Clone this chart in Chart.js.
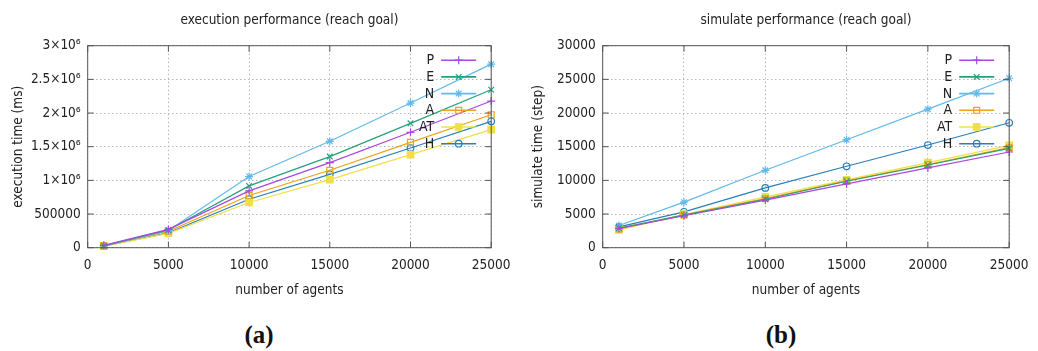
<!DOCTYPE html>
<html>
<head>
<meta charset="utf-8">
<script src="https://cdn.jsdelivr.net/npm/chart.js@4/dist/chart.umd.min.js"></script>
<style>
  html, body { margin: 0; padding: 0; background: #fff; }
  #wrap { position: relative; width: 1038px; height: 351px; background: #fff; overflow: hidden; }
  .panel { position: absolute; top: 0; }
  .cap { position: absolute; top: 321px; width: 80px; text-align: center;
         font-family: "Liberation Serif", "DejaVu Serif", serif; font-weight: bold; font-size: 25px; color: #111; }
</style>
</head>
<body>
<div id="wrap">
  <div class="panel" style="left:0px"><canvas id="execChart" width="520" height="310"></canvas></div>
  <div class="panel" style="left:520px"><canvas id="simChart" width="518" height="310"></canvas></div>
  <div class="cap" style="left:219px">(a)</div>
  <div class="cap" style="left:741px">(b)</div>
</div>
<script>
// number of agents in each run
const agents = [1000, 5000, 10000, 15000, 20000, 25000];
const seriesNames = ['P', 'E', 'N', 'A', 'AT', 'H'];

// execution time (ms)
const execP  = [35000, 272000, 844000, 1264000, 1714000, 2178000];
const execE  = [30000, 262000, 918000, 1353000, 1847000, 2346000];
const execN  = [28000, 257000, 1057000, 1580000, 2148000, 2726000];
const execA  = [27000, 245000, 775000, 1150000, 1565000, 1975000];
const execAT = [22000, 212000, 672000, 1012000, 1383000, 1753000];
const execH  = [24000, 222000, 720000, 1090000, 1480000, 1877000];

// simulate time (step)
const simP  = [2850, 4740, 7056, 9474, 11843, 14210];
const simE  = [2900, 4835, 7200, 9870, 12287, 14753];
const simN  = [3300, 6760, 11497, 16036, 20577, 25164];
const simA  = [2800, 4880, 7300, 9918, 12336, 14852];
const simAT = [2650, 4935, 7550, 10066, 12632, 15197];
const simH  = [3100, 5330, 8882, 12090, 15247, 18553];

// axis ticks
const xTicks = [0, 5000, 10000, 15000, 20000, 25000];
const execTicks = [0, 500000, 1000000, 1500000, 2000000, 2500000, 3000000];
const execTickLabels = ['0', '500000', '1×10⁶', '1.5×10⁶', '2×10⁶', '2.5×10⁶', '3×10⁶'];
const simTicks = [0, 5000, 10000, 15000, 20000, 25000, 30000];

const FONT = '"DejaVu Sans Condensed", "DejaVu Sans", sans-serif';
const TEXT = '#222';

const styles = {
  P:  { color: '#a848dc', point: 'cross',    radius: 4,   fill: '#a848dc' },
  E:  { color: '#26a07a', point: 'crossRot', radius: 4,   fill: '#26a07a' },
  N:  { color: '#62b9ea', point: 'star',     radius: 4,   fill: '#62b9ea' },
  A:  { color: '#e9a418', point: 'rect',     radius: 4.2, fill: 'rgba(0,0,0,0)' },
  AT: { color: '#f0e048', point: 'rect',     radius: 4.6, fill: '#f0e048' },
  H:  { color: '#2a7fb8', point: 'circle',   radius: 3.3, fill: 'rgba(0,0,0,0)' }
};

function makeDatasets(seriesValues) {
  return seriesNames.map((name, i) => {
    const s = styles[name];
    return {
      label: name,
      data: agents.map((a, j) => ({ x: a, y: seriesValues[i][j] })),
      borderColor: s.color,
      backgroundColor: s.fill,
      borderWidth: 1.2,
      pointStyle: s.point,
      pointRadius: s.radius,
      pointBorderColor: s.color,
      pointBackgroundColor: s.fill,
      pointBorderWidth: 1.2,
      tension: 0,
      clip: false
    };
  });
}

// gnuplot-like frame with inward tick marks on all four sides, plus title and key
const framePlugin = {
  id: 'frame',
  afterDatasetsDraw(chart, args, opts) {
    const { ctx, chartArea: a, scales } = chart;
    ctx.save();
    ctx.strokeStyle = '#555';
    ctx.lineWidth = 1;
    ctx.strokeRect(a.left, a.top, a.right - a.left, a.bottom - a.top);
    const tl = 6;
    ctx.beginPath();
    scales.x.ticks.forEach(t => {
      const px = scales.x.getPixelForValue(t.value);
      ctx.moveTo(px, a.bottom); ctx.lineTo(px, a.bottom - tl);
      ctx.moveTo(px, a.top); ctx.lineTo(px, a.top + tl);
    });
    scales.y.ticks.forEach(t => {
      const py = scales.y.getPixelForValue(t.value);
      ctx.moveTo(a.left, py); ctx.lineTo(a.left + tl, py);
      ctx.moveTo(a.right, py); ctx.lineTo(a.right - tl, py);
    });
    ctx.stroke();

    // title
    ctx.fillStyle = TEXT;
    ctx.font = '13.5px ' + FONT;
    ctx.textAlign = 'center';
    ctx.textBaseline = 'middle';
    ctx.fillText(opts.title, (a.left + a.right) / 2, 20);

    // key
    ctx.textAlign = 'right';
    ctx.font = '14px ' + FONT;
    chart.data.datasets.forEach((ds, i) => {
      const y = a.top + 14.5 + i * 16.7;
      const x1 = a.right - 50, x2 = a.right - 15;
      ctx.fillStyle = TEXT;
      ctx.fillText(ds.label, a.right - 57, y + 0.5);
      ctx.strokeStyle = ds.borderColor;
      ctx.lineWidth = 1.6;
      ctx.setLineDash([]);
      ctx.beginPath(); ctx.moveTo(x1, y); ctx.lineTo(x2, y); ctx.stroke();
      ctx.fillStyle = ds.pointBackgroundColor;
      ctx.lineWidth = 1.2;
      Chart.helpers.drawPoint(ctx, { pointStyle: ds.pointStyle, rotation: 0, radius: ds.pointRadius, borderWidth: 1.2 }, (x1 + x2) / 2, y);
    });
    ctx.restore();
  }
};

function makeChart(id, datasets, yMax, yTicks, yLabelFn, yTitle, title, axisWidth, padRight) {
  return new Chart(document.getElementById(id), {
    type: 'line',
    data: { datasets },
    plugins: [framePlugin],
    options: {
      responsive: false,
      animation: false,
      events: [],
      layout: { padding: { top: 45.7, right: padRight, bottom: 10.3, left: 0 } },
      plugins: {
        legend: { display: false },
        tooltip: { enabled: false },
        frame: { title }
      },
      scales: {
        x: {
          type: 'linear', min: 0, max: 25000,
          afterBuildTicks: s => { s.ticks = xTicks.map(v => ({ value: v })); },
          afterFit: s => { s.height = 52; },
          ticks: { color: TEXT, font: { family: FONT, size: 13.5 }, padding: 9.5, maxRotation: 0, callback: v => String(v) },
          grid: { color: '#b8b8b8', lineWidth: 1, drawTicks: false },
          border: { display: false, dash: [1.5, 2.5] },
          title: { display: true, text: 'number of agents', color: TEXT, font: { family: FONT, size: 13.5 }, padding: { top: 0, bottom: 1.5 } }
        },
        y: {
          type: 'linear', min: 0, max: yMax,
          afterBuildTicks: s => { s.ticks = yTicks.map(v => ({ value: v })); },
          afterFit: s => { s.width = axisWidth; },
          ticks: { color: TEXT, font: { family: FONT, size: 13.5 }, padding: 7, callback: yLabelFn },
          grid: { color: '#b8b8b8', lineWidth: 1, drawTicks: false },
          border: { display: false, dash: [1.5, 2.5] },
          title: { display: true, text: yTitle, color: TEXT, font: { family: FONT, size: 13.5 }, padding: { top: 10.5, bottom: 0 } }
        }
      }
    }
  });
}

makeChart('execChart',
  makeDatasets([execP, execE, execN, execA, execAT, execH]),
  3000000, execTicks,
  v => execTickLabels[execTicks.indexOf(v)],
  'execution time (ms)', 'execution performance (reach goal)', 87.7, 27);

makeChart('simChart',
  makeDatasets([simP, simE, simN, simA, simAT, simH]),
  30000, simTicks,
  v => String(v),
  'simulate time (step)', 'simulate performance (reach goal)', 82.7, 23);
</script>
</body>
</html>
